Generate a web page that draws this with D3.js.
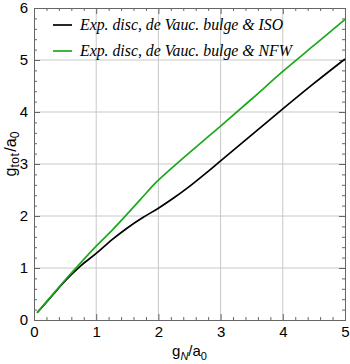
<!DOCTYPE html>
<html>
<head>
<meta charset="utf-8">
<script src="https://cdn.jsdelivr.net/npm/d3@7"></script>
<style>
  body { margin: 0; background: #fff; }
  svg { display: block; }
</style>
</head>
<body>
<svg id="chart" width="350" height="364"></svg>
<script>
// g_N / a_0 sample points
const isoX = [0.05, 0.25, 0.5, 0.75, 1.0, 1.25, 1.5, 1.75, 2.0, 2.25, 2.5, 2.75, 3.0, 3.5, 4.0, 4.5, 5.0];
const isoY = [0.14, 0.41, 0.75, 1.04, 1.28, 1.54, 1.77, 1.97, 2.15, 2.35, 2.57, 2.81, 3.06, 3.56, 4.06, 4.55, 5.02];

const nfwX = [0.05, 0.25, 0.5, 0.75, 1.0, 1.25, 1.5, 1.75, 1.9, 2.0, 2.25, 2.5, 3.0, 3.5, 4.0, 4.5, 5.0];
const nfwY = [0.14, 0.42, 0.77, 1.10, 1.42, 1.72, 2.04, 2.37, 2.57, 2.69, 2.96, 3.22, 3.73, 4.25, 4.78, 5.28, 5.78];

const seriesNames = ["Exp. disc, de Vauc. bulge & ISO", "Exp. disc, de Vauc. bulge & NFW"];
const seriesColors = ["#000000", "#1ca81c"];

const xTicks = [0, 1, 2, 3, 4, 5];
const yTicks = [0, 1, 2, 3, 4, 5, 6];

const margin = {top: 8, right: 5, bottom: 44, left: 34},
    width = 350,
    height = 364;

const svg = d3.select("#chart");

const xScale = d3.scaleLinear().domain([0, 5]).range([margin.left, width - margin.right]);
const yScale = d3.scaleLinear().domain([0, 6]).range([height - margin.bottom, margin.top]);

const x0 = xScale.range()[0], x1 = xScale.range()[1];
const y0 = yScale.range()[0], y1 = yScale.range()[1];

const xMinor = d3.range(0, 5.001, 0.2).filter(v => Math.abs(v - Math.round(v)) > 1e-6);
const yMinor = d3.range(0, 6.001, 0.2).filter(v => Math.abs(v - Math.round(v)) > 1e-6);

// grid
svg.append("g").selectAll("line")
    .data(xTicks.slice(1, -1))
    .join("line")
    .attr("x1", d => xScale(d)).attr("x2", d => xScale(d))
    .attr("y1", y0).attr("y2", y1)
    .attr("stroke", "#c8c8c8").attr("stroke-width", 1);

svg.append("g").selectAll("line")
    .data(yTicks.slice(1, -1))
    .join("line")
    .attr("x1", x0).attr("x2", x1)
    .attr("y1", d => yScale(d)).attr("y2", d => yScale(d))
    .attr("stroke", "#c8c8c8").attr("stroke-width", 1);

// axes, ticks pointing inwards on all four sides
function styleAxis(g) {
    g.select(".domain").attr("stroke", "#666");
    g.selectAll(".tick line").attr("stroke", "#666");
    g.selectAll("text")
        .attr("fill", "#000")
        .style("font-family", "'Liberation Sans', Arial, sans-serif")
        .style("font-size", "15px");
}

svg.append("g").attr("transform", `translate(0,${y0})`)
    .call(d3.axisBottom(xScale).tickValues(xTicks).tickSize(-6).tickPadding(6).tickFormat(d3.format("d")))
    .call(styleAxis);
svg.append("g").attr("transform", `translate(0,${y0})`)
    .call(d3.axisBottom(xScale).tickValues(xMinor).tickSize(-3).tickFormat(""))
    .call(styleAxis);

svg.append("g").attr("transform", `translate(0,${y1})`)
    .call(d3.axisTop(xScale).tickValues(xTicks).tickSize(-6).tickFormat(""))
    .call(styleAxis);
svg.append("g").attr("transform", `translate(0,${y1})`)
    .call(d3.axisTop(xScale).tickValues(xMinor).tickSize(-3).tickFormat(""))
    .call(styleAxis);

svg.append("g").attr("transform", `translate(${x0},0)`)
    .call(d3.axisLeft(yScale).tickValues(yTicks).tickSize(-6).tickPadding(6).tickFormat(d3.format("d")))
    .call(styleAxis);
svg.append("g").attr("transform", `translate(${x0},0)`)
    .call(d3.axisLeft(yScale).tickValues(yMinor).tickSize(-3).tickFormat(""))
    .call(styleAxis);

svg.append("g").attr("transform", `translate(${x1},0)`)
    .call(d3.axisRight(yScale).tickValues(yTicks).tickSize(-6).tickFormat(""))
    .call(styleAxis);
svg.append("g").attr("transform", `translate(${x1},0)`)
    .call(d3.axisRight(yScale).tickValues(yMinor).tickSize(-3).tickFormat(""))
    .call(styleAxis);

// curves
const line = d3.line()
    .x(d => xScale(d[0]))
    .y(d => yScale(d[1]))
    .curve(d3.curveCatmullRom.alpha(0.5));

const series = [
    d3.zip(isoX, isoY),
    d3.zip(nfwX, nfwY)
];

svg.append("g").selectAll("path")
    .data(series)
    .join("path")
    .attr("d", d => line(d))
    .attr("fill", "none")
    .attr("stroke", (d, i) => seriesColors[i])
    .attr("stroke-width", 1.7);

// legend
const legend = svg.selectAll(".legend")
    .data(seriesNames)
    .join("g")
    .attr("class", "legend")
    .attr("transform", (d, i) => `translate(53, ${25 + i * 26})`);

legend.append("line")
    .attr("x1", 0).attr("x2", 19)
    .attr("y1", 0).attr("y2", 0)
    .attr("stroke", (d, i) => seriesColors[i])
    .attr("stroke-width", 1.7);

legend.append("text")
    .attr("x", 27)
    .attr("y", 5)
    .text(d => d)
    .style("font-family", "'Liberation Serif', 'Times New Roman', serif")
    .style("font-style", "italic")
    .style("font-size", "15.8px");

// axis labels
const xLabel = svg.append("text")
    .attr("x", (x0 + x1) / 2)
    .attr("y", 356)
    .attr("text-anchor", "middle")
    .style("font-family", "'Liberation Sans', Arial, sans-serif")
    .style("font-size", "15px");
xLabel.append("tspan").text("g");
xLabel.append("tspan").attr("dy", 4).style("font-size", "11px").style("font-style", "italic").text("N");
xLabel.append("tspan").attr("dy", -4).text("/a");
xLabel.append("tspan").attr("dy", 4).style("font-size", "11px").text("0");

const yLabel = svg.append("text")
    .attr("transform", "translate(16,154) rotate(-90)")
    .attr("text-anchor", "middle")
    .style("font-family", "'Liberation Sans', Arial, sans-serif")
    .style("font-size", "16px");
yLabel.append("tspan").text("g");
yLabel.append("tspan").attr("dy", 3).style("font-size", "12px").style("letter-spacing", "0.5px").text("tot");
yLabel.append("tspan").attr("dy", -3).attr("dx", 1).text("/a");
yLabel.append("tspan").attr("dy", 3).style("font-size", "12px").text("0");
</script>
</body>
</html>
